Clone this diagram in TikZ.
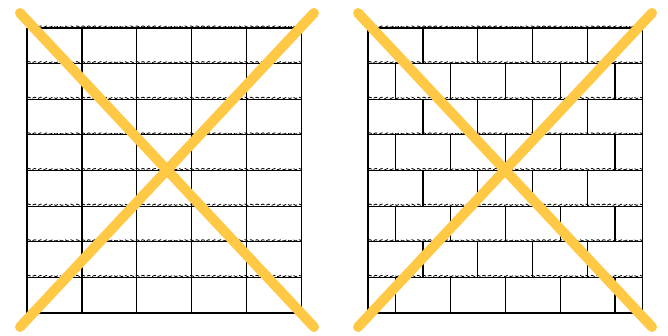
\documentclass[tikz,border=0pt]{standalone}
\usepackage{xcolor}
\usepackage{tikz}
\usetikzlibrary{decorations.pathmorphing}
\definecolor{crossyellow}{HTML}{FFC845}

\begin{document}
\begin{tikzpicture}[x=1pt, y=1pt,
  brick/.style={line width=1.2pt},
  mortar/.style={line width=0.8pt, dash pattern=on 4pt off 2pt, decorate,
    decoration={snake, amplitude=0.7pt, segment length=6pt}},
  cross/.style={line width=10pt, line cap=round, draw=crossyellow}]
  \useasboundingbox (0,0) rectangle (668,335);
  % left wall, joints in line
  \foreach \k in {0,...,8}
    \draw[brick] (27,22+35.625*\k) -- (301.5,22+35.625*\k);
  \foreach \k in {1,...,8}
    \draw[mortar] (27,23.4+35.625*\k) -- (301.5,23.4+35.625*\k);
  \foreach \c in {0,...,5}
    \draw[brick] (27+54.9*\c,22) -- (27+54.9*\c,307);
  % right wall, joints staggered
  \foreach \k in {0,...,8}
    \draw[brick] (368,22+35.625*\k) -- (642.5,22+35.625*\k);
  \foreach \k in {1,...,8}
    \draw[mortar] (368,23.4+35.625*\k) -- (642.5,23.4+35.625*\k);
  \foreach \b in {0,...,7} {
    \pgfmathsetmacro\yb{22+35.625*\b}
    \pgfmathsetmacro\yt{\yb+35.625}
    \pgfmathsetmacro\off{mod(\b+1,2)*27.45}
    \draw[brick] (368,\yb) -- (368,\yt) (642.5,\yb) -- (642.5,\yt);
    \foreach \c in {0,...,4}
      \draw[brick] (368+\off+54.9*\c,\yb) -- (368+\off+54.9*\c,\yt);
  }
  % crossed out
  \draw[cross] (20,322) -- (314,8) (20,8) -- (314,322);
  \draw[cross] (358,322) -- (652,8) (358,8) -- (652,322);
\end{tikzpicture}
\end{document}
